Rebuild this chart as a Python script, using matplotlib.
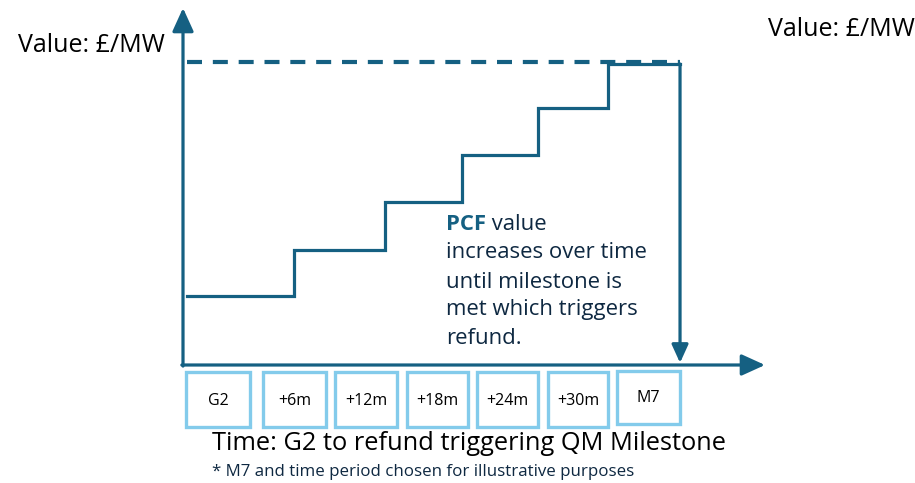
import matplotlib
matplotlib.use("Agg")
import matplotlib.pyplot as plt
from matplotlib.patches import Rectangle

# ---- data (chart units: % of axis length) ----
step_x = [0.7, 19.1, 34.7, 47.9, 61.0, 73.0, 85.4]
step_y = [19.3, 32.2, 45.7, 58.8, 72.0, 84.3]
cap_value = 84.9
box_labels = ["G2", "+6m", "+12m", "+18m", "+24m", "+30m", "M7"]
box_left = [0.5, 13.7, 26.1, 38.5, 50.5, 62.7, 74.6]
box_right = [11.5, 24.6, 36.8, 49.0, 61.0, 73.0, 85.4]

LINE = "#156082"
DARK = "#0E2841"
LIGHT = "#83CBEB"
FONT = ["Open Sans", "DejaVu Sans"]

W, H = 915, 483
fig = plt.figure(figsize=(W / 100, H / 100), dpi=100)
x0, y0, x1, y1 = 183, 365, 765, 8
ax = fig.add_axes([x0 / W, (H - y0) / H, (x1 - x0) / W, (y0 - y1) / H])
ax.set_xlim(0, 100)
ax.set_ylim(0, 100)
ax.axis("off")

head = "-|>,head_length=1.1,head_width=0.5"
# axes arrows
ax.annotate("", xy=(0, 100), xytext=(0, -0.3),
            arrowprops=dict(arrowstyle=head, color=LINE, lw=2.3,
                            shrinkA=0, shrinkB=0, mutation_scale=13),
            annotation_clip=False)
ax.annotate("", xy=(100, 0), xytext=(-0.2, 0),
            arrowprops=dict(arrowstyle=head, color=LINE, lw=2.3,
                            shrinkA=0, shrinkB=0, mutation_scale=13),
            annotation_clip=False)

# dashed cap line
ax.plot([step_x[0], step_x[-1]], [cap_value, cap_value], color=LINE, lw=3,
        dashes=(3.6, 2.6), solid_capstyle="butt")

# step line
xs, ys = [], []
for i, v in enumerate(step_y):
    xs += [step_x[i], step_x[i + 1]]
    ys += [v, v]
ax.plot(xs, ys, color=LINE, lw=2.3, solid_joinstyle="miter")

# refund arrow down
ax.annotate("", xy=(step_x[-1], 0.6), xytext=(step_x[-1], step_y[-1]),
            arrowprops=dict(arrowstyle=head, color=LINE, lw=2.3,
                            shrinkA=0, shrinkB=0, mutation_scale=10),
            annotation_clip=False)

# time boxes
for lab, l, r in zip(box_labels, box_left, box_right):
    top = -1.9 if lab != "M7" else -1.7
    bot = -17.3 if lab != "M7" else -16.6
    ax.add_patch(Rectangle((l, bot), r - l, top - bot, fill=False, edgecolor=LIGHT,
                           lw=2.4, clip_on=False))
    ax.text((l + r) / 2, (top + bot) / 2 - 0.5 + (0.4 if lab == "M7" else 0), lab,
            ha="center", va="center", fontsize=11.5, color="black",
            family=FONT, clip_on=False)

# texts
fig.text(18 / W, 1 - 46 / H, "Value: £/MW", ha="left", va="center",
         fontsize=18, color="black", family=FONT)
fig.text(768 / W, 1 - 29 / H, "Value: £/MW", ha="left", va="center",
         fontsize=18, color="black", family=FONT)
fig.text(212 / W, 1 - 444 / H, "Time: G2 to refund triggering QM Milestone",
         ha="left", va="center", fontsize=18.3, color="black", family=FONT)
fig.text(212 / W, 1 - 472 / H, "* M7 and time period chosen for illustrative purposes",
         ha="left", va="center", fontsize=12.2, color=DARK, family=FONT)

lines_y = [225, 253, 282, 310, 338]
pcf = fig.text(446 / W, 1 - lines_y[0] / H, "PCF", ha="left", va="center",
               fontsize=15.9, color=LINE, family=FONT, weight="bold")
ax.annotate(" value", xy=(1, 0.5), xycoords=pcf, ha="left", va="center",
            fontsize=15.9, color=DARK, family=FONT, annotation_clip=False)
for t, yy in zip(["increases over time", "until milestone is",
                  "met which triggers", "refund."], lines_y[1:]):
    fig.text(446 / W, 1 - yy / H, t, ha="left", va="center",
             fontsize=15.9, color=DARK, family=FONT)

fig.savefig("out.png", dpi=100)
